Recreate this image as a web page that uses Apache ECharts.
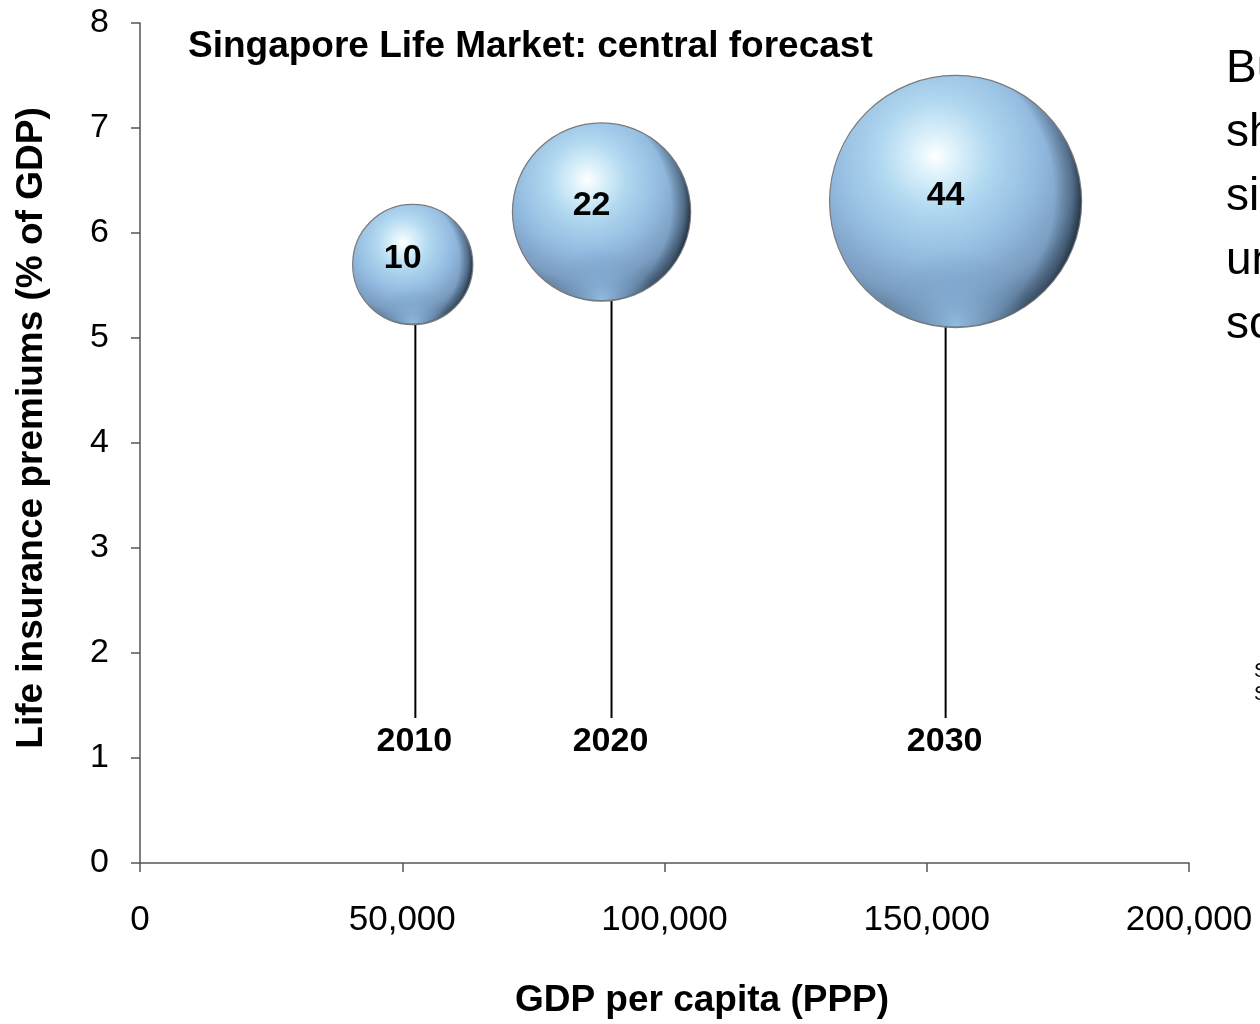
<!DOCTYPE html>
<html>
<head>
<meta charset="utf-8">
<script src="https://cdn.jsdelivr.net/npm/echarts@6/dist/echarts.min.js"></script>
<style>
  html, body { margin: 0; padding: 0; background: #fff; }
  #chart { width: 1260px; height: 1024px; }
</style>
</head>
<body>
<div id="chart"></div>
<script>
// Singapore life market, central forecast
const years = ['2010', '2020', '2030'];
const gdpPerCapita = [52000, 88000, 155500];     // GDP per capita (PPP)
const premiumsPct = [5.7, 6.2, 6.3];             // life premiums, % of GDP
const marketSize = [10, 22, 44];                 // bubble value (area)
// stems hanging under each bubble down to its year label
const stemX = [52500, 89900, 153600];
const stemTop = [5.15, 5.38, 5.15];
const stemBottom = [1.38, 1.38, 1.38];

const FONT = '"Liberation Sans", Arial, Helvetica, sans-serif';

const bubbleData = years.map((y, i) => [gdpPerCapita[i], premiumsPct[i], marketSize[i]]);
const stemData = years.map((y, i) => [stemX[i], stemTop[i], stemBottom[i]]);
const bubbleSize = v => 38 * Math.sqrt(v[2]);

// glossy sphere: base body, shaded right rim, light rim at the bottom
const sphereFill = {
  type: 'radial', x: 0.42, y: 0.32, r: 0.78,
  colorStops: [
    { offset: 0, color: '#ffffff' },
    { offset: 0.1, color: '#def2fb' },
    { offset: 0.28, color: '#b0d8f0' },
    { offset: 0.52, color: '#93bbe0' },
    { offset: 0.72, color: '#7a9cc0' },
    { offset: 0.86, color: '#56718d' },
    { offset: 1, color: '#34475a' }
  ]
};
const sideShade = {
  type: 'radial', x: 0.3, y: 0.47, r: 0.74,
  colorStops: [
    { offset: 0, color: 'rgba(20,35,50,0)' },
    { offset: 0.8, color: 'rgba(20,35,50,0)' },
    { offset: 0.9, color: 'rgba(20,35,50,0.4)' },
    { offset: 0.97, color: 'rgba(8,16,24,0.85)' },
    { offset: 1, color: 'rgba(8,16,24,0.9)' }
  ]
};
const rimLight = {
  type: 'radial', x: 0.5, y: 1.0, r: 0.3,
  colorStops: [
    { offset: 0, color: 'rgba(150,192,228,0.95)' },
    { offset: 0.55, color: 'rgba(130,172,212,0.5)' },
    { offset: 1, color: 'rgba(120,160,200,0)' }
  ]
};

const chart = echarts.init(document.getElementById('chart'), null, { renderer: 'canvas' });

chart.setOption({
  animation: false,
  backgroundColor: '#ffffff',
  title: {
    text: 'Singapore Life Market: central forecast',
    left: 183, top: 23,
    textStyle: { fontFamily: FONT, fontSize: 37, fontWeight: 'bold', color: '#000' }
  },
  grid: { left: 140, right: 71, top: 23, bottom: 161 },
  xAxis: {
    type: 'value', min: 0, max: 200000, interval: 50000,
    axisLine: { show: true, lineStyle: { color: '#555', width: 1.5 } },
    axisTick: { show: true, length: 9, inside: false, lineStyle: { color: '#555', width: 1.5 } },
    splitLine: { show: false },
    axisLabel: {
      margin: 40, fontFamily: FONT, fontSize: 35, color: '#000',
      formatter: v => v.toLocaleString('en-US')
    }
  },
  yAxis: {
    type: 'value', min: 0, max: 8, interval: 1,
    axisLine: { show: true, lineStyle: { color: '#555', width: 1.5 } },
    axisTick: { show: true, length: 9, inside: false, lineStyle: { color: '#555', width: 1.5 } },
    splitLine: { show: false },
    axisLabel: { margin: 31, fontFamily: FONT, fontSize: 34, color: '#000' }
  },
  graphic: [
    {
      type: 'text', x: 32, y: 428, rotation: Math.PI / 2,
      style: {
        text: 'Life insurance premiums (% of GDP)',
        font: 'bold 37px ' + FONT, fill: '#000',
        textAlign: 'center', textVerticalAlign: 'middle'
      }
    },
    {
      type: 'text', x: 702, y: 1001,
      style: {
        text: 'GDP per capita (PPP)',
        font: 'bold 37px ' + FONT, fill: '#000',
        textAlign: 'center', textVerticalAlign: 'middle'
      }
    },
    {
      type: 'text', x: 1226, y: 37,
      style: {
        text: 'Bubbles\nshow\nsize (USD bn)\nunder\nscenario',
        font: '46px ' + FONT, lineHeight: 64, fill: '#000',
        textAlign: 'left', textVerticalAlign: 'top'
      }
    },
    {
      type: 'text', x: 1254, y: 660,
      style: {
        text: 'Source:\nSwiss Re',
        font: '20px ' + FONT, lineHeight: 23, fill: '#000',
        textAlign: 'left', textVerticalAlign: 'top'
      }
    }
  ],
  series: [
    {
      type: 'custom',
      name: 'stems',
      coordinateSystem: 'cartesian2d',
      encode: { x: 0, y: [1, 2] },
      data: stemData,
      z: 1,
      renderItem: function (params, api) {
        const top = api.coord([api.value(0), api.value(1)]);
        const bot = api.coord([api.value(0), api.value(2)]);
        return {
          type: 'group',
          children: [
            {
              type: 'line',
              shape: { x1: top[0], y1: top[1], x2: bot[0], y2: bot[1] },
              style: { stroke: '#000', lineWidth: 2 }
            },
            {
              type: 'text', x: bot[0] - 1, y: bot[1] + 7,
              style: {
                text: years[params.dataIndex],
                font: 'bold 34px ' + FONT, fill: '#000',
                textAlign: 'center', textVerticalAlign: 'top'
              }
            }
          ]
        };
      }
    },
    {
      type: 'scatter',
      name: 'market',
      data: bubbleData,
      z: 3,
      symbolSize: bubbleSize,
      itemStyle: { color: sphereFill, borderColor: '#7a7a7a', borderWidth: 1.2, opacity: 1 },
      emphasis: { disabled: true },
      label: { show: false }
    },
    {
      type: 'scatter',
      name: 'market-shade',
      data: bubbleData,
      z: 4,
      symbolSize: v => bubbleSize(v) - 1,
      itemStyle: { color: sideShade, opacity: 1 },
      emphasis: { disabled: true },
      label: { show: false }
    },
    {
      type: 'scatter',
      name: 'market-rim',
      data: bubbleData,
      z: 5,
      symbolSize: v => bubbleSize(v) - 2,
      itemStyle: { color: rimLight, opacity: 1 },
      emphasis: { disabled: true },
      label: {
        show: true, position: 'inside', offset: [-10, -6],
        formatter: p => String(p.value[2]),
        fontFamily: FONT, fontSize: 34, fontWeight: 'bold', color: '#000'
      }
    }
  ]
});
</script>
</body>
</html>
